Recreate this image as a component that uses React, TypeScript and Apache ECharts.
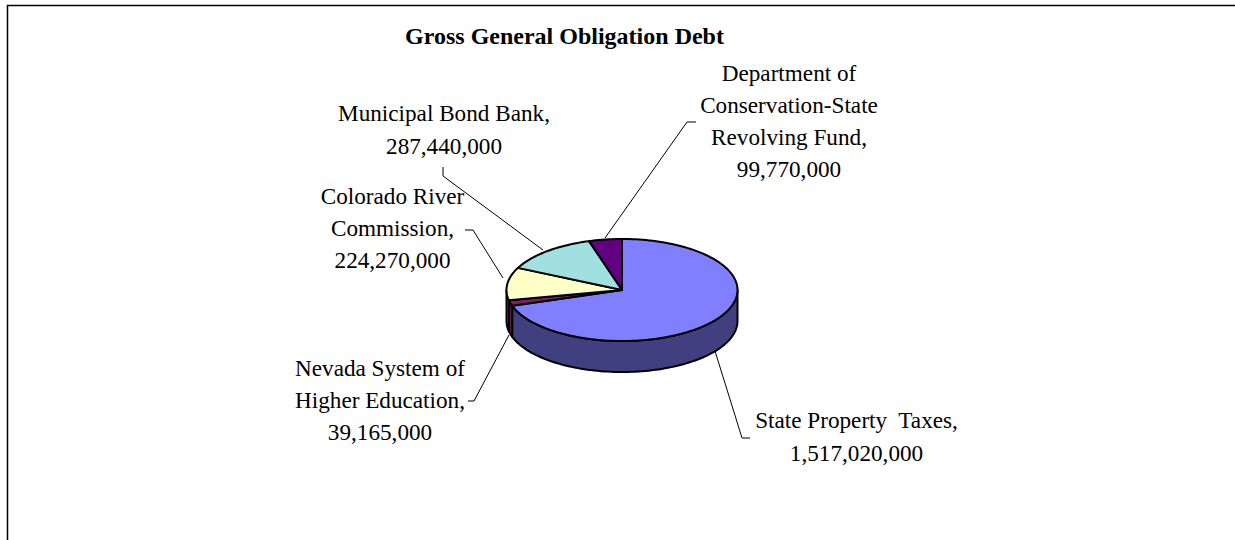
import React, { useEffect, useRef } from "react";
import * as echarts from "echarts";

const titleText = "Gross General Obligation Debt";
const categories = [
  "State Property Taxes",
  "Nevada System of Higher Education",
  "Colorado River Commission",
  "Municipal Bond Bank",
  "Department of Conservation-State Revolving Fund",
];
const values = [1517020000, 39165000, 224270000, 287440000, 99770000];
const topColors = ["#8080FF", "#802060", "#FFFFC8", "#A0E0E0", "#600080"];
const sideColors = ["#404080", "#601848", "#808064", "#507070", "#300040"];
const labelLines = [
  ["State Property  Taxes,", "1,517,020,000"],
  ["Nevada System of", "Higher Education,", "39,165,000"],
  ["Colorado River", "Commission,", "224,270,000"],
  ["Municipal Bond Bank,", "287,440,000"],
  ["Department of", "Conservation-State", "Revolving Fund,", "99,770,000"],
];
const labelCenters = [
  [856.5, 436.5],
  [380, 400],
  [392.5, 228],
  [444, 129.5],
  [789, 121],
];
const leaderLines = [
  [[715, 351], [742, 438], [750, 438]],
  [[509, 335], [474, 401], [468, 401]],
  [[503, 278], [473, 230], [465, 230]],
  [[543, 250], [443, 176], [443, 167]],
  [[605, 238], [687, 122], [696, 122]],
];

const CX = 622;
const CY = 290;
const RX = 115.5;
const RY = 51;
const DEPTH = 31;
const FONT = '"Liberation Serif", "Times New Roman", serif';

const total = values.reduce((a, b) => a + b, 0);
const px = (t: number) => CX + RX * Math.sin(t);
const py = (t: number, d = 0) => CY - RY * Math.cos(t) + d;

function arcPts(a: number, b: number, d = 0) {
  const n = Math.max(2, Math.ceil(Math.abs(b - a) / 0.03));
  const pts: number[][] = [];
  for (let i = 0; i <= n; i++) {
    const t = a + ((b - a) * i) / n;
    pts.push([px(t), py(t, d)]);
  }
  return pts;
}

function renderSlice(params: any, api: any) {
  const idx = params.dataIndex;
  let acc = 0;
  for (let i = 0; i < idx; i++) acc += values[i];
  const a = (acc / total) * Math.PI * 2;
  const b = ((acc + api.value(0)) / total) * Math.PI * 2;
  const children: any[] = [];
  const sA = Math.max(a, Math.PI / 2);
  const sB = Math.min(b, (Math.PI * 3) / 2);
  const border = { stroke: "#000", lineWidth: 2, lineJoin: "round" };
  if (sB > sA) {
    const top = arcPts(sA, sB);
    const bottom = arcPts(sB, sA, DEPTH);
    children.push({
      type: "polygon",
      shape: { points: top.concat(bottom) },
      style: { fill: sideColors[idx], ...border },
    });
  }
  children.push({
    type: "polygon",
    shape: { points: [[CX, CY], ...arcPts(a, b)] },
    style: { fill: topColors[idx], ...border },
  });
  return { type: "group", children };
}

export default function App() {
  const ref = useRef<HTMLDivElement>(null);
  useEffect(() => {
    const chart = echarts.init(ref.current!, null, { renderer: "svg" });
    const graphics: any[] = [
      {
        type: "polyline",
        silent: true,
        shape: { points: [[7.5, 540], [7.5, 5.5], [1235, 5.5]] },
        style: { stroke: "#000", lineWidth: 1.5, fill: "none" },
      },
      {
        type: "text",
        x: 564.5,
        y: 35.5,
        style: {
          text: titleText,
          font: `bold 24px ${FONT}`,
          fill: "#000",
          textAlign: "center",
          textVerticalAlign: "middle",
        },
      },
    ];
    labelLines.forEach((lines, i) => {
      const [x, y] = labelCenters[i];
      lines.forEach((line, j) => {
        graphics.push({
          type: "text",
          x,
          y: y + (j - (lines.length - 1) / 2) * 32.3,
          style: {
            text: line,
            font: `23.2px ${FONT}`,
            fill: "#000",
            textAlign: "center",
            textVerticalAlign: "middle",
          },
        });
      });
      graphics.push({
        type: "polyline",
        shape: { points: leaderLines[i] },
        style: { stroke: "#000", lineWidth: 1, fill: "none" },
      });
    });
    chart.setOption({
      animation: false,
      backgroundColor: "#fff",
      graphic: graphics,
      series: [
        {
          type: "custom",
          coordinateSystem: "none",
          renderItem: renderSlice,
          data: categories.map((name, i) => ({ name, value: [values[i]] })),
          z: 2,
        },
      ],
    });
    return () => chart.dispose();
  }, []);
  return <div ref={ref} style={{ position: "fixed", left: 0, top: 0, width: 1235, height: 540 }} />;
}
